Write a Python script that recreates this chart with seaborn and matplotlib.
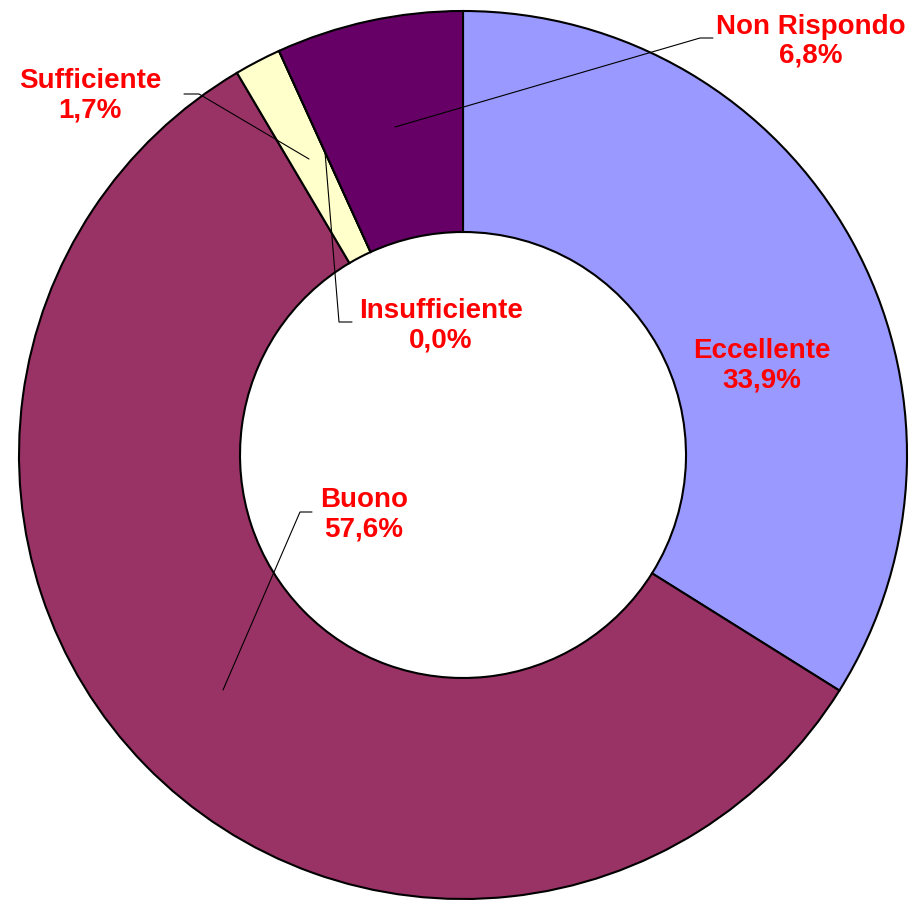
import matplotlib
matplotlib.use("Agg")
import matplotlib.pyplot as plt
import seaborn as sns

sns.set_theme(style="white")
plt.rcParams['font.family'] = ['Liberation Sans', 'DejaVu Sans']

# dati
categorie = ['Eccellente', 'Buono', 'Sufficiente', 'Insufficiente', 'Non Rispondo']
percentuali = [33.9, 57.6, 1.7, 0.0, 6.8]
colori = sns.color_palette(['#9999FF', '#993366', '#FFFFCC', '#FF8080', '#660066'])

W, H = 914, 904
fig = plt.figure(figsize=(W / 100, H / 100), dpi=100)
ax = fig.add_axes([0, 0, 1, 1])

CX, CY = 463, H - 456
R_OUT, R_IN = 444, 223

ax.pie(percentuali, colors=colori, startangle=90, counterclock=False,
       radius=R_OUT, center=(CX, CY), frame=True,
       wedgeprops=dict(width=R_OUT - R_IN, edgecolor='black', linewidth=1.5))
ax.set_xlim(0, W)
ax.set_ylim(0, H)
ax.set_aspect('equal')
ax.axis('off')

def etichetta(txt, x, y):
    ax.text(x, H - y, txt, ha='center', va='center', color='red',
            fontsize=20, fontweight='bold', linespacing=1.15)

def leader(punti):
    xs = [p[0] for p in punti]
    ys = [H - p[1] for p in punti]
    ax.plot(xs, ys, color='black', linewidth=0.8)

fmt = lambda v: f"{v:.1f}".replace('.', ',') + '%'

# posizioni delle etichette (pixel)
pos = {
    'Eccellente': (762, 366),
    'Buono': (364, 515),
    'Sufficiente': (90, 96),
    'Insufficiente': (441, 326),
    'Non Rispondo': (811, 41),
}
for cat, val in zip(categorie, percentuali):
    x, y = pos[cat]
    etichetta(f"{cat}\n{fmt(val)}", x, y)

leader([(395, 128), (700, 39), (713, 39)])
leader([(184, 95), (199, 95), (309, 160)])
leader([(352, 323), (339, 323), (325, 153)])
leader([(312, 513), (300, 513), (223, 691)])

fig.savefig('out.png', dpi=100)
